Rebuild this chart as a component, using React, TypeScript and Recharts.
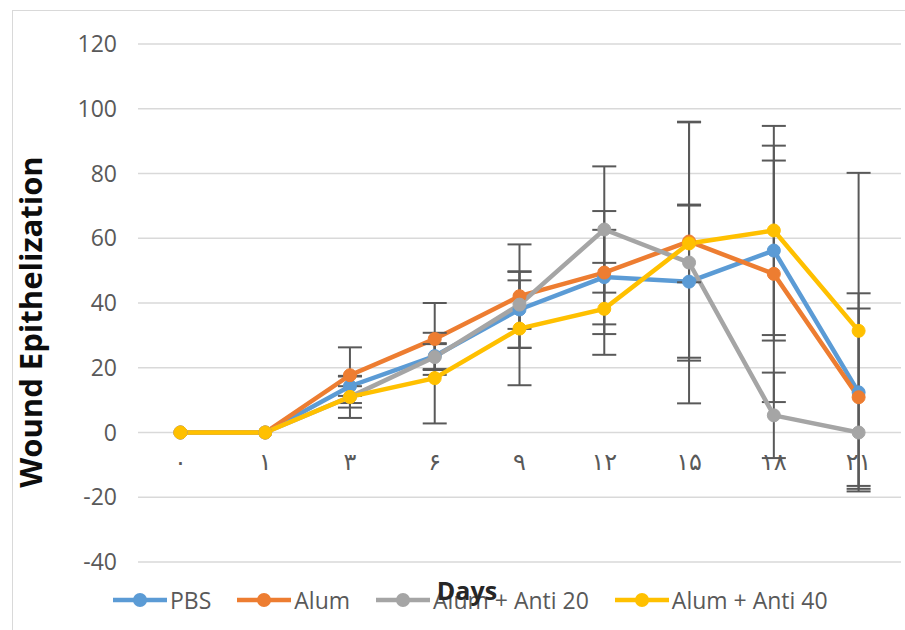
import React from "react";
import {
  LineChart,
  Line,
  XAxis,
  YAxis,
  CartesianGrid,
  ErrorBar,
} from "recharts";

const days = ["۰", "۱", "۳", "۶", "۹", "۱۲", "۱۵", "۱۸", "۲۱"];

const pbs = [0, 0, 14.3, 23.6, 38, 48, 46.6, 56.2, 12.4];
const pbsErr = [null, null, 3, 4, 11.8, 14.6, 23.5, 27.8, 30.6];

const alum = [0, 0, 17.7, 28.9, 42.1, 49.4, 59, 49, 10.9];
const alumErr = [null, null, 8.6, 11.1, 16, 19, 36.8, 39.6, 27.4];

const anti20 = [0, 0, 11, 23.3, 39.5, 62.7, 52.5, 5.3, 0];
const anti20Err = [null, null, 6.5, 4, 7.5, 19.5, 43.5, 13.2, null];

const anti40 = [0, 0, 11, 16.8, 32.1, 38.2, 58.4, 62.4, 31.4];
const anti40Err = [null, null, 3.3, 14, 17.5, 14.2, 12, 32.3, 48.8];

const yTicks = [-40, -20, 0, 20, 40, 60, 80, 100, 120];

const series = [
  { key: "pbs", name: "PBS", color: "#5B9BD5" },
  { key: "alum", name: "Alum", color: "#ED7D31" },
  { key: "anti20", name: "Alum + Anti 20", color: "#A5A5A5" },
  { key: "anti40", name: "Alum + Anti 40", color: "#FFC000" },
];

const data = days.map((day, i) => ({
  day,
  pbs: pbs[i],
  pbsErr: pbsErr[i],
  alum: alum[i],
  alumErr: alumErr[i],
  anti20: anti20[i],
  anti20Err: anti20Err[i],
  anti40: anti40[i],
  anti40Err: anti40Err[i],
}));

const W = 905;
const H = 630;
const M = { top: 44, right: 4, bottom: 0, left: 0 };
const X_AXIS_H = 68;
const Y_MIN = -40;
const Y_MAX = 120;
const plotH = H - M.top - M.bottom - X_AXIS_H;
const zeroY = M.top + (plotH * Y_MAX) / (Y_MAX - Y_MIN);

const gray = "#595959";

function DayTick({ x, payload }: any) {
  return (
    <text
      x={x}
      y={zeroY + 37}
      textAnchor="middle"
      fill={gray}
      style={{ fontSize: 24, fontFamily: "DejaVu Sans" }}
    >
      {payload.value}
    </text>
  );
}

function ValueTick({ x, y, payload }: any) {
  return (
    <text
      x={x}
      y={y}
      dy={8}
      textAnchor="end"
      fill={gray}
      style={{ fontSize: 23, fontFamily: "Open Sans" }}
    >
      {payload.value}
    </text>
  );
}

function ChartLegend() {
  return (
    <div
      style={{
        position: "absolute",
        left: 113,
        top: 584,
        display: "flex",
        alignItems: "center",
        gap: 26,
      }}
    >
      {series.map((s) => (
        <div key={s.key} style={{ display: "flex", alignItems: "center", gap: 3 }}>
          <svg width={54} height={16}>
            <line x1={0} y1={8} x2={54} y2={8} stroke={s.color} strokeWidth={4.5} />
            <circle cx={27} cy={8} r={7} fill={s.color} />
          </svg>
          <span
            style={{
              fontFamily: "Open Sans",
              fontSize: 23,
              color: gray,
              whiteSpace: "nowrap",
            }}
          >
            {s.name}
          </span>
        </div>
      ))}
    </div>
  );
}

export default function App() {
  return (
    <div
      style={{
        position: "absolute",
        left: 0,
        top: 0,
        width: W,
        height: H,
        overflow: "hidden",
        background: "#fff",
      }}
    >
      <div
        style={{
          position: "absolute",
          left: 12,
          top: 10,
          width: 1000,
          height: 1000,
          border: "1.5px solid #D9D9D9",
        }}
      />
      <LineChart width={W} height={H} data={data} margin={M}>
        <CartesianGrid vertical={false} stroke="#D9D9D9" strokeWidth={1.5} />
        <XAxis
          dataKey="day"
          scale="band"
          axisLine={false}
          tickLine={false}
          height={X_AXIS_H}
          tick={<DayTick />}
          interval={0}
        />
        <YAxis
          domain={[Y_MIN, Y_MAX]}
          ticks={yTicks}
          width={138}
          axisLine={false}
          tickLine={false}
          tickMargin={15}
          tick={<ValueTick />}
        />
        {series.map((s) => (
          <Line
            key={s.key}
            dataKey={s.key}
            name={s.name}
            stroke={s.color}
            strokeWidth={4.5}
            dot={{ r: 6.5, fill: s.color, stroke: s.color, strokeWidth: 1 }}
            activeDot={false}
            isAnimationActive={false}
          >
            <ErrorBar
              dataKey={s.key + "Err"}
              direction="y"
              width={12}
              strokeWidth={2}
              stroke={gray}
              isAnimationActive={false}
            />
          </Line>
        ))}
      </LineChart>
      <ChartLegend />
      <div
        style={{
          position: "absolute",
          left: 467,
          top: 590,
          transform: "translate(-50%, -50%)",
          fontFamily: "Open Sans",
          fontWeight: 700,
          fontSize: 25,
          color: "#262626",
          whiteSpace: "nowrap",
          zIndex: 2,
        }}
      >
        Days
      </div>
      <div
        style={{
          position: "absolute",
          left: 30,
          top: 322,
          transform: "translate(-50%, -50%) rotate(-90deg)",
          fontFamily: "Open Sans",
          fontWeight: 700,
          fontSize: 31,
          color: "#0D0D0D",
          whiteSpace: "nowrap",
        }}
      >
        Wound Epithelization
      </div>
    </div>
  );
}
